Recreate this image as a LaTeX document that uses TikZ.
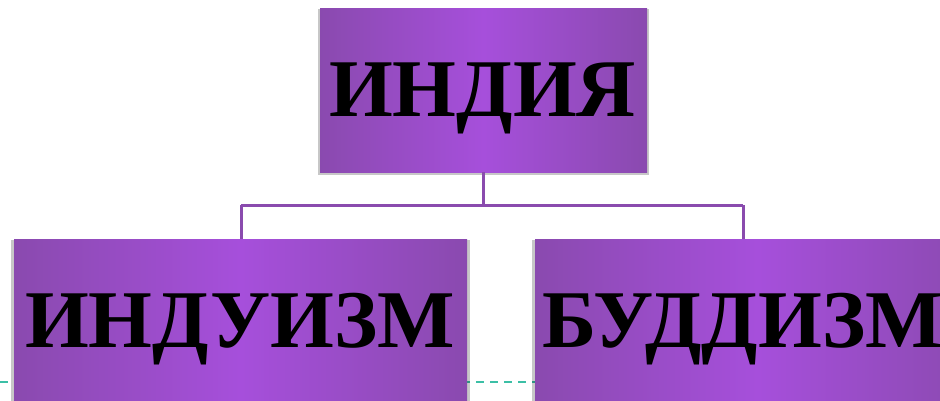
\documentclass[tikz,border=0pt]{standalone}
\usepackage{fontspec}
\setmainfont{Liberation Serif}
\usetikzlibrary{shadows}
\definecolor{edgepurple}{HTML}{8A4AAF}
\definecolor{midpurple}{HTML}{A64FDB}
\definecolor{linepurple}{HTML}{8A4BAE}
\definecolor{dashteal}{HTML}{3CBFA6}
\tikzset{
  box/.style={rectangle, draw=none, left color=edgepurple, right color=edgepurple, middle color=midpurple,
    general shadow={fill=black, opacity=.22, shadow scale=1.012, shadow yshift=-2pt}},
  bigtext/.style={font=\bfseries\fontsize{82}{82}\selectfont, text=black, inner sep=0pt, anchor=base},
  conn/.style={draw=linepurple, line width=3pt},
  dashline/.style={draw=dashteal, line width=2pt, dash pattern=on 8pt off 6pt}
}
\begin{document}
\begin{tikzpicture}[x=1pt,y=-1pt]
\useasboundingbox (0,0) rectangle (940,400);
\clip (0,0) rectangle (940,400);
\fill[white] (0,0) rectangle (940,400);
\coordinate (dl) at (0,382);
\coordinate (dr) at (940,382);
\draw[dashline] (dl) -- (dr);
% boxes
\node[box, minimum width=327pt, minimum height=164pt] (top) at (483.5,90) {};
\node[box, minimum width=453pt, minimum height=164pt] (left) at (240.5,321) {};
\node[box, minimum width=445pt, minimum height=164pt] (right) at (757.5,321) {};
% connectors
\coordinate (j) at (483.5,205);
\coordinate (jl) at (241,205);
\coordinate (jr) at (743,205);
\draw[conn] (top.south) -- (j);
\draw[conn] (jl) -- (jr);
\draw[conn] (jl) -- (jl |- left.north);
\draw[conn] (jr) -- (jr |- right.north);
% texts
\node[bigtext] (ttop) at (482.5,116) {ИНДИЯ};
\node[bigtext] (tleft) at (240,347) {ИНДУИЗМ};
\node[bigtext, anchor=base west] (tright) at (542,347) {БУДДИЗМ};
\end{tikzpicture}
\end{document}
